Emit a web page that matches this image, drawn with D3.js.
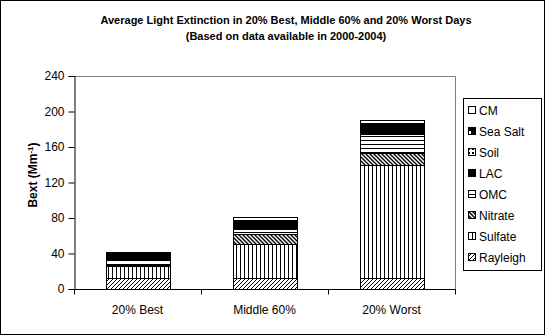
<!DOCTYPE html>
<html><head><meta charset="utf-8">
<script src="https://cdn.jsdelivr.net/npm/d3@7"></script>
<style>body{margin:0;background:#fff}svg{display:block}text{font-family:"Liberation Sans",Arial,sans-serif}</style>
</head><body>
<script>
const categories = ["20% Best", "Middle 60%", "20% Worst"];
const species = ["Rayleigh", "Sulfate", "Nitrate", "OMC", "LAC", "Soil", "Sea Salt", "CM"];
const rayleigh = [12, 12, 12.5];
const sulfate  = [13.5, 39, 127];
const nitrate  = [1, 10.5, 14];
const omc      = [6, 5.6, 21.5];
const lac      = [7, 10, 10.5];
const soil     = [0.8, 0.5, 0.8];
const seaSalt  = [0.5, 0.3, 0.5];
const cm       = [1.2, 3.7, 3.5];
const yTicks = [0, 40, 80, 120, 160, 200, 240];
const titleLines = ["Average Light Extinction in 20% Best, Middle 60% and 20% Worst Days", "(Based on data available in 2000-2004)"];

const seriesVals = [rayleigh, sulfate, nitrate, omc, lac, soil, seaSalt, cm];
const table = categories.map((c, i) => {
  const o = {cat: c};
  species.forEach((s, k) => o[s] = seriesVals[k][i]);
  return o;
});

const W = 545, H = 335;
const svg = d3.select("body").append("svg").attr("width", W).attr("height", H);
const defs = svg.append("defs");

function pat(id, size, draw) {
  const p = defs.append("pattern").attr("id", id).attr("patternUnits", "userSpaceOnUse")
    .attr("width", size).attr("height", size);
  p.append("rect").attr("width", size).attr("height", size).attr("fill", "#fff");
  draw(p, size);
}
pat("p-ray", 4, (p) => { p.append("path").attr("d", "M0,4 L4,0 M-1,1 L1,-1 M3,5 L5,3").attr("stroke", "#000").attr("stroke-width", 1); });
pat("p-sul", 4, (p) => { p.append("rect").attr("x", 0).attr("y", 0).attr("width", 1).attr("height", 4).attr("fill", "#000"); });
pat("p-nit", 4, (p) => { p.append("path").attr("d", "M0,0 L4,4 M-1,3 L1,5 M3,-1 L5,1").attr("stroke", "#000").attr("stroke-width", 1.4); });
pat("p-omc", 4, (p) => { p.append("rect").attr("x", 0).attr("y", 0).attr("width", 4).attr("height", 1).attr("fill", "#000"); });
pat("p-soil", 4, (p) => { p.append("rect").attr("x", 0).attr("y", 0).attr("width", 2).attr("height", 2).attr("fill", "#000"); });
pat("p-sea", 8, (p) => { p.append("rect").attr("width", 8).attr("height", 8).attr("fill", "#000");
  p.append("rect").attr("x", 0).attr("y", 0).attr("width", 3).attr("height", 3).attr("fill", "#fff"); });

const fills = {"Rayleigh": "url(#p-ray)", "Sulfate": "url(#p-sul)", "Nitrate": "url(#p-nit)", "OMC": "url(#p-omc)",
  "LAC": "#000", "Soil": "url(#p-soil)", "Sea Salt": "url(#p-sea)", "CM": "#fff"};

svg.append("rect").attr("x", 0.5).attr("y", 0.5).attr("width", W - 1).attr("height", H - 1)
  .attr("fill", "#fff").attr("stroke", "#000");

const pLeft = 74, pRight = 455, pTop = 76, pBottom = 289;
const x = d3.scaleBand().domain(categories).range([pLeft, pRight]).paddingInner(0.5).paddingOuter(0.25);
const y = d3.scaleLinear().domain([0, 240]).range([pBottom, pTop]);

svg.append("path").attr("d", `M${pLeft},${pTop + 0.5}H${pRight + 0.5}V${pBottom}`)
  .attr("fill", "none").attr("stroke", "#808080");

const stack = d3.stack().keys(species)(table);
const g = svg.append("g");
stack.forEach(layer => {
  g.selectAll(null).data(layer).enter().append("rect")
    .attr("x", d => Math.round(x(d.data.cat)) + 0.5)
    .attr("width", Math.round(x.bandwidth()))
    .attr("y", d => Math.round(y(d[1])) + 0.5)
    .attr("height", d => Math.max(0, Math.round(y(d[0])) - Math.round(y(d[1]))))
    .attr("fill", fills[layer.key])
    .attr("stroke", "#000").attr("stroke-width", 1);
});

const yAxis = svg.append("g").attr("transform", `translate(${pLeft + 0.5},0)`)
  .call(d3.axisLeft(y).tickValues(yTicks).tickSize(6).tickPadding(4).tickFormat(d3.format("d")));
yAxis.select(".domain").attr("stroke", "#000");
yAxis.selectAll("line").attr("stroke", "#000");
yAxis.selectAll("text").attr("font-size", 12).attr("fill", "#000");

const xAxisG = svg.append("g").attr("transform", `translate(0,${pBottom + 0.5})`);
xAxisG.append("line").attr("x1", pLeft).attr("x2", pRight + 1).attr("stroke", "#000");
const step = x.step();
const bounds = d3.range(categories.length + 1).map(i => pLeft + i * step);
xAxisG.selectAll(".tk").data(bounds).enter().append("line")
  .attr("x1", d => Math.round(d) + 0.5).attr("x2", d => Math.round(d) + 0.5)
  .attr("y1", 0).attr("y2", 5).attr("stroke", "#000");
xAxisG.selectAll(".lb").data(categories).enter().append("text")
  .attr("x", d => x(d) + x.bandwidth() / 2).attr("y", 24)
  .attr("text-anchor", "middle").attr("font-size", 12).text(d => d);

const yl = svg.append("text").attr("transform", "translate(37,175) rotate(-90)")
  .attr("text-anchor", "middle").attr("font-size", 12).attr("font-weight", "bold");
yl.append("tspan").text("Bext (Mm");
yl.append("tspan").attr("dy", -4).attr("font-size", 8).text("-1");
yl.append("tspan").attr("dy", 4).text(")");

svg.selectAll(".title").data(titleLines).enter().append("text")
  .attr("x", 286).attr("y", (d, i) => 24 + i * 16)
  .attr("text-anchor", "middle").attr("font-size", 11).attr("font-weight", "bold").text(d => d);

const lg = svg.append("g");
lg.append("rect").attr("x", 463.5).attr("y", 98.5).attr("width", 78).attr("height", 172)
  .attr("fill", "#fff").attr("stroke", "#000");
const legendItems = species.slice().reverse();
const li = lg.selectAll(".li").data(legendItems).enter().append("g")
  .attr("transform", (d, i) => `translate(468,${110 + i * 21})`);
li.append("rect").attr("x", 0.5).attr("y", -3.5).attr("width", 7).attr("height", 7)
  .attr("fill", d => fills[d]).attr("stroke", "#000");
li.append("text").attr("x", 11).attr("y", 4.5).attr("font-size", 12).text(d => d);
</script>
</body></html>
